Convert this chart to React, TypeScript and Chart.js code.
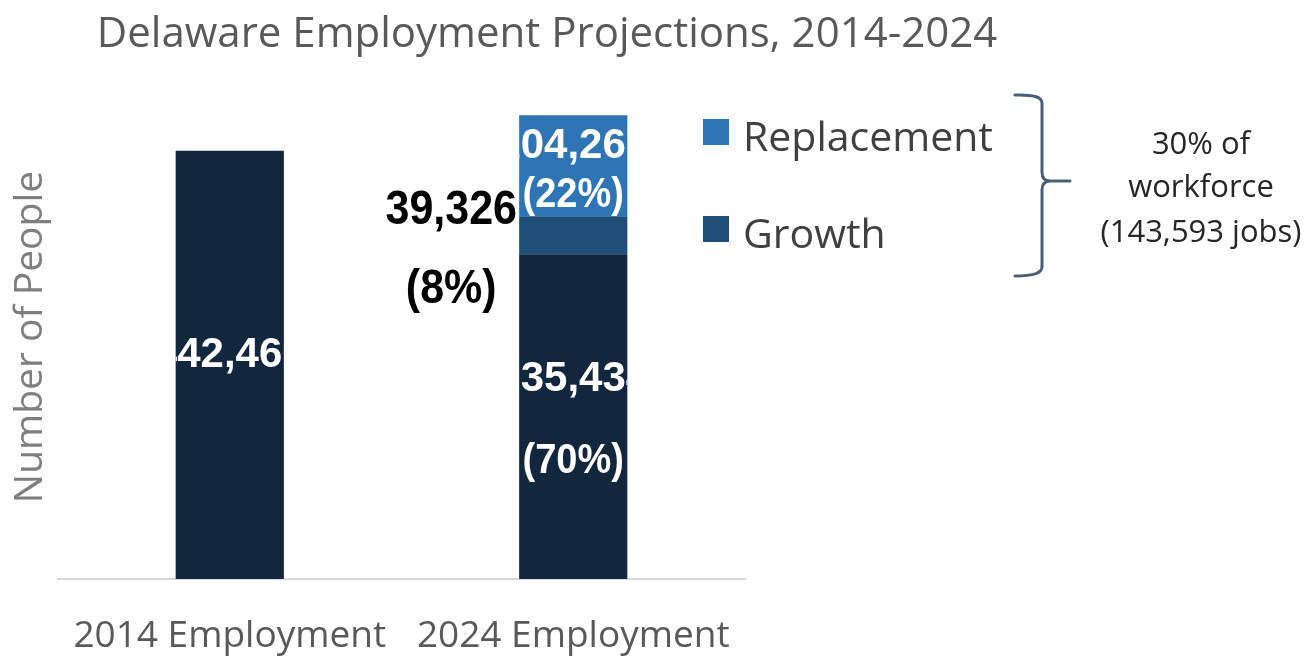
import React, { useEffect, useRef } from "react";
import { Chart, registerables } from "chart.js";

Chart.register(...registerables);

// ---------- data ----------
const categories = ["2014 Employment", "2024 Employment"];
const baseValues = [442460, 335434];
const growthValues = [null, 39326];
const replacementValues = [null, 104267];
const baseLabels = [["442,460"], ["335,434", "(70%)"]];
const growthLabels = [null, ["39,326", "(8%)"]];
const replacementLabels = [null, ["104,267", "(22%)"]];
const legendNames = ["Replacement", "Growth"];
const titleText = "Delaware Employment Projections, 2014-2024";
const yAxisTitle = "Number of People";
const noteLines = ["30% of", "workforce", "(143,593 jobs)"];
const yMax = 500000;

// ---------- styles ----------
const C_BASE = "#12263E";
const C_GROWTH = "#1F4E79";
const C_REPL = "#2E75B6";
const FONT = "'Open Sans', sans-serif";
const BOLD = "'Liberation Sans', Arial, sans-serif";

// per-segment label line offsets (px from segment centre)
const baseOffsets = [[-9], [-37, 45]];
const replOffsets = [null, [-19, 30]];
const growthOffsets = [null, [-25, 54]];
const growthLabelDx = -122;

function drawLines(
  ctx: CanvasRenderingContext2D,
  lines: string[],
  x: number,
  cy: number,
  offsets: number[],
  color: string,
  bold: boolean,
  clip: null | { l: number; r: number; h: number }
) {
  ctx.save();
  if (clip) {
    ctx.beginPath();
    ctx.rect(clip.l, 0, clip.r - clip.l, clip.h);
    ctx.clip();
  }
  ctx.fillStyle = color;
  ctx.textAlign = "center";
  ctx.textBaseline = "middle";
  lines.forEach((t, k) => {
    const paren = t.startsWith("(");
    let size: number, sy: number;
    if (!clip) {
      size = 43;
      sy = 1.12;
    } else if (paren) {
      size = 38;
      sy = 1.1;
    } else {
      size = 42;
      sy = 1.0;
    }
    ctx.font = `${bold ? "bold " : ""}${size}px ${BOLD}`;
    ctx.save();
    ctx.translate(x, cy + offsets[k]);
    ctx.scale(1, sy);
    ctx.fillText(t, 0, 0);
    ctx.restore();
  });
  ctx.restore();
}

const customPlugin = {
  id: "customDraw",
  afterDatasetsDraw(chart: any) {
    const ctx: CanvasRenderingContext2D = chart.ctx;
    const h = chart.height;
    const metas = [0, 1, 2].map((i) => chart.getDatasetMeta(i));
    const sets = [
      { labels: baseLabels, offs: baseOffsets, meta: metas[0], inside: true },
      { labels: growthLabels, offs: growthOffsets, meta: metas[1], inside: false },
      { labels: replacementLabels, offs: replOffsets, meta: metas[2], inside: true },
    ];
    sets.forEach((s) => {
      s.labels.forEach((lines: any, i: number) => {
        if (!lines) return;
        const el: any = s.meta.data[i];
        const cy = (el.y + el.base) / 2;
        const offs = s.offs[i] as number[];
        if (s.inside) {
          const l = el.x - el.width / 2;
          const r = el.x + el.width / 2;
          drawLines(ctx, lines, el.x, cy, offs, "#ffffff", true, { l, r, h });
        } else {
          drawLines(ctx, lines, el.x + growthLabelDx, cy, offs, "#000000", true, null);
        }
      });
    });
  },
  afterDraw(chart: any) {
    const ctx: CanvasRenderingContext2D = chart.ctx;
    ctx.save();
    // title
    ctx.font = `42px ${FONT}`;
    ctx.fillStyle = "#595959";
    ctx.textAlign = "center";
    ctx.textBaseline = "alphabetic";
    ctx.fillText(titleText, 547, 47);

    // legend
    const legendColors = [C_REPL, C_GROWTH];
    const legendY = [132, 229];
    legendNames.forEach((name, i) => {
      ctx.fillStyle = legendColors[i];
      ctx.fillRect(703, legendY[i] - 13, 26, 26);
      ctx.fillStyle = "#404040";
      ctx.font = `41px ${FONT}`;
      ctx.textAlign = "left";
      ctx.textBaseline = "alphabetic";
      ctx.fillText(name, 743, legendY[i] + 19);
    });

    // bracket
    ctx.strokeStyle = "#4A6078";
    ctx.lineWidth = 3;
    ctx.lineCap = "round";
    ctx.beginPath();
    ctx.moveTo(1015, 95);
    ctx.quadraticCurveTo(1042, 94, 1042, 103);
    ctx.lineTo(1042, 172);
    ctx.quadraticCurveTo(1042, 181, 1050, 181);
    ctx.lineTo(1070, 181);
    ctx.moveTo(1050, 181);
    ctx.quadraticCurveTo(1042, 181, 1042, 190);
    ctx.lineTo(1042, 267);
    ctx.quadraticCurveTo(1042, 276, 1015, 276);
    ctx.stroke();

    // note
    ctx.fillStyle = "#262626";
    ctx.font = `31px ${FONT}`;
    ctx.textAlign = "center";
    const noteBase = [154, 197, 242];
    noteLines.forEach((t, i) => ctx.fillText(t, 1201, noteBase[i]));
    ctx.restore();
  },
};

export default function App() {
  const ref = useRef<HTMLCanvasElement>(null);
  useEffect(() => {
    const canvas = ref.current!;
    const chart = new Chart(canvas, {
      type: "bar",
      data: {
        labels: categories,
        datasets: [
          { label: "Employment", data: baseValues as any, backgroundColor: C_BASE },
          { label: legendNames[1], data: growthValues as any, backgroundColor: C_GROWTH },
          { label: legendNames[0], data: replacementValues as any, backgroundColor: C_REPL },
        ],
      },
      options: {
        responsive: false,
        animation: false,
        devicePixelRatio: 1,
        layout: { padding: { top: 95, right: 567, left: 0, bottom: 0 } },
        datasets: { bar: { categoryPercentage: 1, barPercentage: 0.315 } },
        plugins: {
          legend: { display: false },
          title: { display: false },
          tooltip: { enabled: false },
        },
        scales: {
          x: {
            stacked: true,
            grid: { display: false, drawTicks: false },
            border: { display: true, color: "#D9D9D9", width: 2 },
            ticks: { color: "#595959", font: { family: FONT, size: 37 }, padding: 35, maxRotation: 0 },
            afterFit: (s: any) => {
              s.height = 83;
            },
          },
          y: {
            stacked: true,
            min: 0,
            max: yMax,
            grid: { display: false, drawTicks: false },
            border: { display: false },
            ticks: { display: false },
            title: {
              display: true,
              text: yAxisTitle,
              color: "#7F7F7F",
              font: { family: FONT, size: 39 },
              padding: { top: 7, bottom: 4 },
            },
            afterFit: (s: any) => {
              s.width = 58;
            },
          },
        },
      },
      plugins: [customPlugin],
    });
    return () => chart.destroy();
  }, []);
  return (
    <div style={{ position: "fixed", left: 0, top: 0, width: 1312, height: 662, background: "#ffffff" }}>
      <canvas ref={ref} width={1312} height={662} style={{ display: "block", width: 1312, height: 662 }} />
    </div>
  );
}
